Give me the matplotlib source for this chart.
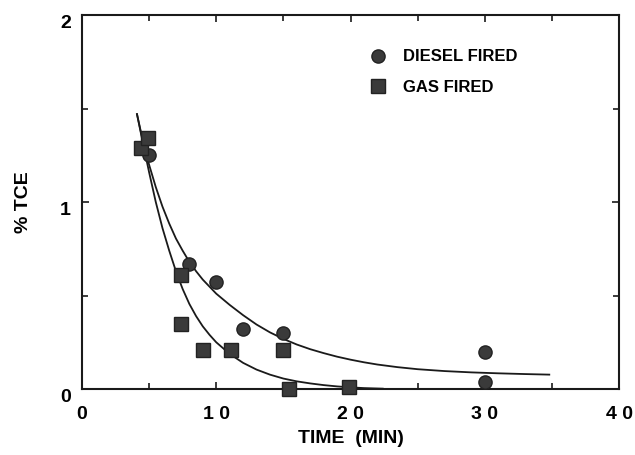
import matplotlib
matplotlib.use("Agg")
import matplotlib.pyplot as plt
import matplotlib.transforms as mtransforms
from matplotlib.ticker import FixedLocator

plt.rcParams["font.family"] = ["Liberation Sans", "DejaVu Sans"]
plt.rcParams["font.weight"] = "bold"

# measured points
diesel_t = [5, 8, 10, 12, 15, 30, 30]
diesel_y = [1.25, 0.67, 0.57, 0.32, 0.30, 0.20, 0.04]
gas_t = [4.4, 4.9, 7.4, 7.4, 9.0, 11.1, 15.0, 15.4, 19.9]
gas_y = [1.29, 1.34, 0.61, 0.35, 0.21, 0.21, 0.21, 0.0, 0.01]

# fitted decay curves
diesel_fit_t = [4.1, 4.5, 5.0, 5.5, 6.0, 6.5, 7.0, 7.5, 8.0, 8.5, 9.0, 10.0,
                11.0, 12.0, 13.0, 14.0, 15.0, 16.0, 17.0, 18.0, 19.0, 20.0,
                21.0, 22.0, 23.5, 25.0, 27.0, 29.0, 31.0, 33.0, 34.8]
diesel_fit_y = [1.47, 1.34, 1.20, 1.08, 0.975, 0.885, 0.805, 0.74, 0.68,
                0.63, 0.585, 0.51, 0.45, 0.395, 0.345, 0.303, 0.268, 0.238,
                0.213, 0.192, 0.173, 0.157, 0.143, 0.131, 0.117, 0.106,
                0.096, 0.089, 0.084, 0.080, 0.077]
gas_fit_t = [4.1, 4.5, 5.0, 5.5, 6.0, 6.5, 7.0, 7.5, 8.0, 8.5, 9.0, 9.5,
             10.0, 11.0, 12.0, 13.0, 14.0, 15.0, 16.0, 17.0, 18.0, 19.0,
             20.0, 21.0, 22.4]
gas_fit_y = [1.47, 1.33, 1.16, 1.00, 0.86, 0.74, 0.63, 0.535, 0.455, 0.39,
             0.335, 0.29, 0.25, 0.188, 0.140, 0.104, 0.077, 0.056, 0.041,
             0.030, 0.021, 0.014, 0.009, 0.005, 0.002]

x_ticks = [0, 10, 20, 30, 40]
x_labels = ["0", "1 0", "2 0", "3 0", "4 0"]
y_ticks = [0, 1, 2]
y_labels = ["0", "1", "2"]

fig = plt.figure(figsize=(6.35, 4.55), dpi=100)
ax = fig.add_axes([0.129, 0.145, 0.846, 0.822])

ink = "#1a1a1a"
ax.plot(diesel_fit_t, diesel_fit_y, color=ink, lw=1.3)
ax.plot(gas_fit_t, gas_fit_y, color=ink, lw=1.3)

ax.plot(diesel_t, diesel_y, "o", ms=9.5, mfc="#3a3a3a", mec="#222222",
        mew=1.0, ls="none", label="DIESEL FIRED", clip_on=False, zorder=3)
ax.plot(gas_t, gas_y, "s", ms=9.5, mfc="#3a3a3a", mec="#222222",
        mew=1.0, ls="none", label="GAS FIRED", clip_on=False, zorder=3)

ax.set_xlim(0, 40)
ax.set_ylim(0, 2)
ax.xaxis.set_major_locator(FixedLocator(x_ticks))
ax.xaxis.set_minor_locator(FixedLocator([5, 15, 25, 35]))
ax.yaxis.set_major_locator(FixedLocator(y_ticks))
ax.yaxis.set_minor_locator(FixedLocator([0.5, 1.5]))
ax.set_xticklabels(x_labels)
ax.set_yticklabels(y_labels)

for sp in ax.spines.values():
    sp.set_linewidth(1.5)
    sp.set_color(ink)

ax.tick_params(which="both", direction="in", top=True, right=True,
               color=ink, width=1.2)
ax.tick_params(which="major", length=5)
ax.tick_params(which="minor", length=4)
ax.tick_params(axis="x", which="major", labelsize=14, pad=12)
ax.tick_params(axis="y", which="major", labelsize=14, pad=8)

# y tick labels sit a little low
shift = mtransforms.ScaledTranslation(0, -5 / 72, fig.dpi_scale_trans)
for lbl in ax.get_yticklabels():
    lbl.set_transform(lbl.get_transform() + shift)

ax.set_xlabel("TIME  (MIN)", fontsize=14, fontweight="bold", labelpad=5)
ax.set_ylabel("% TCE", fontsize=14, fontweight="bold", labelpad=20)

ax.legend(loc="upper left", bbox_to_anchor=(0.508, 0.948), frameon=False,
          fontsize=12, handlelength=1.0, handletextpad=1.0,
          labelspacing=0.95, numpoints=1)

fig.savefig("out.png", dpi=100)
